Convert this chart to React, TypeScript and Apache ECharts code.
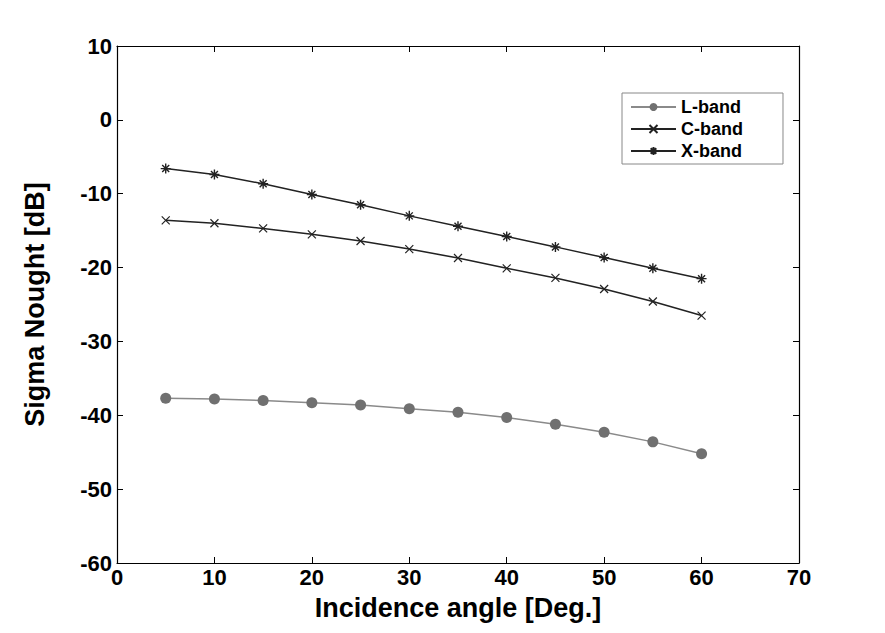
import React, { useEffect, useRef } from "react";
import * as echarts from "echarts";

const angles = [5, 10, 15, 20, 25, 30, 35, 40, 45, 50, 55, 60];
const lBand = [-37.7, -37.8, -38.0, -38.3, -38.6, -39.1, -39.6, -40.3, -41.2, -42.3, -43.6, -45.2];
const cBand = [-13.6, -14.0, -14.7, -15.5, -16.4, -17.5, -18.7, -20.1, -21.4, -22.9, -24.6, -26.5];
const xBand = [-6.6, -7.4, -8.65, -10.1, -11.5, -13.0, -14.4, -15.8, -17.2, -18.65, -20.1, -21.5];
const seriesNames = ["L-band", "C-band", "X-band"];

const X_SYMBOL = "path://M0,0L10,10M10,0L0,10";
const STAR_SYMBOL = "path://M5,0L5,10M0,5L10,5M1.5,1.5L8.5,8.5M8.5,1.5L1.5,8.5";

const FONT = "'Liberation Sans', Arial, sans-serif";

export default function App() {
  const ref = useRef<HTMLDivElement>(null);
  useEffect(() => {
    if (!ref.current) return;
    const chart = echarts.init(ref.current, null, { renderer: "svg" });
    const pair = (ys: number[]) => angles.map((a, i) => [a, ys[i]]);
    const axisCommon = {
      type: "value" as const,
      axisLine: { show: true, onZero: false, lineStyle: { color: "#000", width: 1.2 } },
      axisTick: { show: true, inside: true, length: 6, lineStyle: { color: "#000", width: 1 } },
      splitLine: { show: false },
    };
    chart.setOption({
      animation: false,
      backgroundColor: "#fff",
      textStyle: { fontFamily: FONT },
      grid: { left: 117, right: 86, top: 46, bottom: 70 },
      legend: {
        orient: "vertical",
        left: 622,
        top: 93,
        padding: [5, 40, 4, 8],
        itemGap: 4,
        itemWidth: 45,
        itemHeight: 10,
        backgroundColor: "#fff",
        borderColor: "#888",
        borderWidth: 1,
        borderRadius: 0,
        textStyle: { fontFamily: FONT, fontWeight: "bold", fontSize: 18, color: "#000" },
        data: seriesNames,
      },
      xAxis: [
        {
          ...axisCommon,
          min: 0,
          max: 70,
          interval: 10,
          position: "bottom",
          name: "Incidence angle [Deg.]",
          nameLocation: "middle",
          nameGap: 31,
          nameTextStyle: { fontFamily: FONT, fontWeight: "bold", fontSize: 27, color: "#000" },
          axisLabel: { fontFamily: FONT, fontWeight: "bold", fontSize: 22, color: "#000", margin: 3 },
        },
        {
          ...axisCommon,
          min: 0,
          max: 70,
          interval: 10,
          position: "top",
          axisLabel: { show: false },
        },
      ],
      yAxis: [
        {
          ...axisCommon,
          min: -60,
          max: 10,
          interval: 10,
          position: "left",
          name: "Sigma Nought [dB]",
          nameLocation: "middle",
          nameGap: 69,
          nameTextStyle: { fontFamily: FONT, fontWeight: "bold", fontSize: 27, color: "#000" },
          axisLabel: { fontFamily: FONT, fontWeight: "bold", fontSize: 22, color: "#000", margin: 5 },
        },
        {
          ...axisCommon,
          min: -60,
          max: 10,
          interval: 10,
          position: "right",
          axisLabel: { show: false },
        },
      ],
      series: [
        {
          name: "L-band",
          type: "line",
          data: pair(lBand),
          symbol: "circle",
          symbolSize: 11,
          lineStyle: { color: "#8a8a8a", width: 1.5 },
          itemStyle: { color: "#707070" },
        },
        {
          name: "C-band",
          type: "line",
          data: pair(cBand),
          symbol: X_SYMBOL,
          symbolSize: 8,
          lineStyle: { color: "#222", width: 1.5 },
          itemStyle: { color: "#222", borderColor: "#222", borderWidth: 1.2 },
        },
        {
          name: "X-band",
          type: "line",
          data: pair(xBand),
          symbol: STAR_SYMBOL,
          symbolSize: 10,
          lineStyle: { color: "#222", width: 1.5 },
          itemStyle: { color: "#222", borderColor: "#222", borderWidth: 1.4 },
        },
      ],
    });
    return () => chart.dispose();
  }, []);
  return (
    <div
      ref={ref}
      style={{ position: "absolute", left: 0, top: 0, width: 885, height: 633, background: "#fff" }}
    />
  );
}
